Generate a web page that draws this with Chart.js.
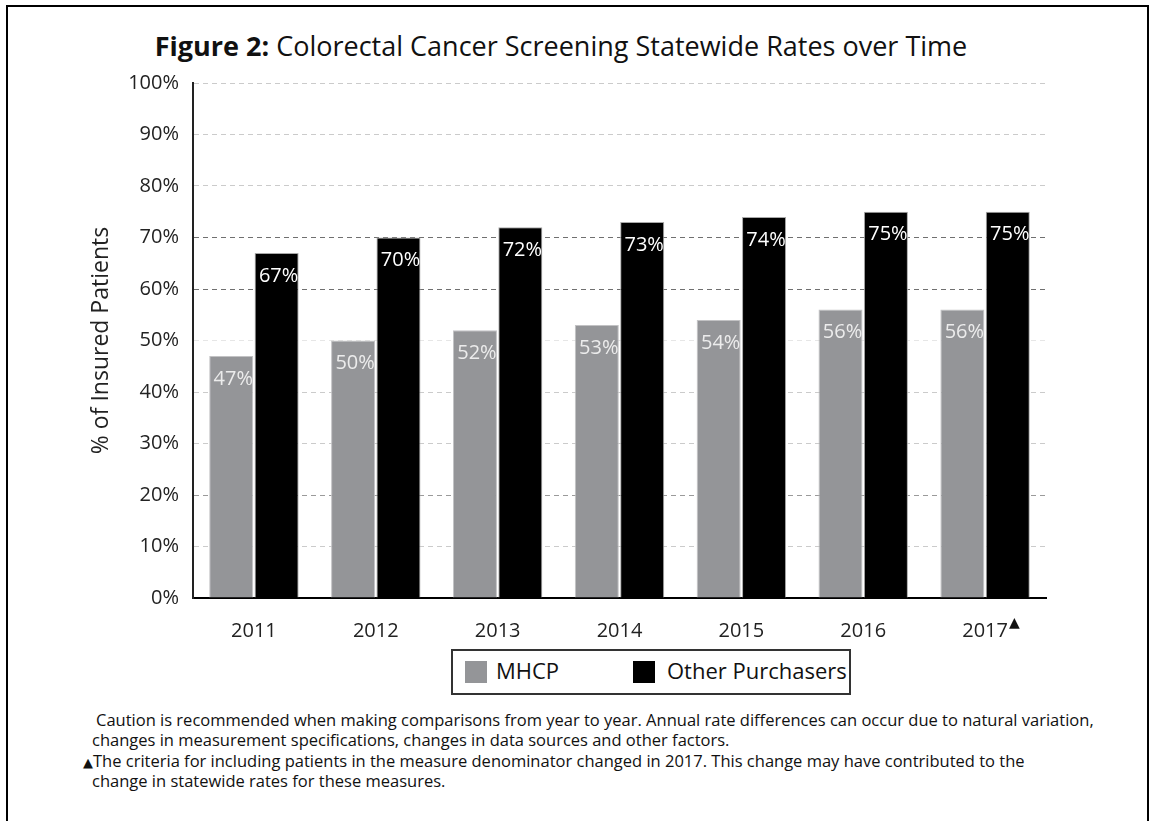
<!DOCTYPE html>
<html>
<head>
<meta charset="utf-8">
<title>Figure 2</title>
<script src="https://cdn.jsdelivr.net/npm/chart.js@4.4.1/dist/chart.umd.min.js"></script>
<style>
  html, body { margin: 0; padding: 0; background: #fff; }
  body { width: 1153px; height: 821px; position: relative; overflow: hidden; font-family: "Open Sans", sans-serif; color: #111; }
  #frame { position: absolute; left: 6px; top: 5px; width: 1139px; height: 840px; border: 2px solid #000; }
  #wrap { position: absolute; left: 0; top: 0; width: 1153px; height: 640px; }
  #title { position: absolute; left: 0; width: 1122px; top: 30px; text-align: center; font-size: 27px; line-height: 32px; color: #111; white-space: nowrap; }
  #title b { font-weight: 700; }
  #legend { position: absolute; left: 451px; top: 649px; width: 396px; height: 42px; border: 2px solid #333; }
  #legend .sw { position: absolute; top: 10px; width: 22px; height: 22px; }
  #legend .tx { position: absolute; top: 4px; font-size: 22px; line-height: 30px; color: #111; white-space: nowrap; }
  .note { position: absolute; font-size: 16.5px; line-height: 20px; color: #111; white-space: nowrap; }
  .tri { font-family: "DejaVu Sans", sans-serif; font-size: 13px; }
</style>
</head>
<body>
<div id="frame"></div>
<div id="title"><b>Figure 2:</b> Colorectal Cancer Screening Statewide Rates over Time</div>
<div id="wrap"><canvas id="chart"></canvas></div>
<div id="legend">
  <div class="sw" style="left:12px;background:#949598"></div>
  <div class="tx" style="left:43px">MHCP</div>
  <div class="sw" style="left:180px;background:#000"></div>
  <div class="tx" style="left:214px">Other Purchasers</div>
</div>
<div class="note" style="left:96px;top:710px">Caution is recommended when making comparisons from year to year. Annual rate differences can occur due to natural variation,</div>
<div class="note" style="left:92px;top:730px">changes in measurement specifications, changes in data sources and other factors.</div>
<div class="note" style="left:83px;top:751px"><span class="tri">&#9650;</span>The criteria for including patients in the measure denominator changed in 2017. This change may have contributed to the</div>
<div class="note" style="left:92px;top:771px">change in statewide rates for these measures.</div>
<script>
const years = ["2011", "2012", "2013", "2014", "2015", "2016", "2017"];
const mhcp = [47, 50, 52, 53, 54, 56, 56];
const otherPurchasers = [67, 70, 72, 73, 74, 75, 75];
const yMax = 100;
const yStep = 10;

// lighter or darker dashes, as in the picture
function gridColor(v) {
  if (v === 0) return "rgba(0,0,0,0)";
  if (v === 70 || v === 60) return "#707070";
  if (v === 20) return "#9a9a9a";
  if (v === 50) return "#e6e6e6";
  return "#cbcbcb";
}

// value labels just inside the top of each bar
const barLabels = {
  id: "barLabels",
  afterDatasetsDraw(chart) {
    const ctx = chart.ctx;
    ctx.save();
    ctx.font = "20px 'Open Sans'";
    ctx.textAlign = "center";
    ctx.textBaseline = "middle";
    chart.data.datasets.forEach((ds, di) => {
      chart.getDatasetMeta(di).data.forEach((bar, i) => {
        ctx.fillStyle = di === 0 ? "#ececec" : "#ffffff";
        ctx.fillText(ds.data[i] + "%", bar.x + 2, bar.y + 23);
      });
    });
    ctx.restore();
  }
};

// small triangle after the last year
const yearMark = {
  id: "yearMark",
  afterDraw(chart) {
    const ctx = chart.ctx;
    const x = chart.scales.x;
    const last = years.length - 1;
    const px = x.getPixelForTick(last);
    ctx.save();
    ctx.font = "20px 'Open Sans'";
    const w = ctx.measureText(years[last]).width;
    ctx.font = "14px 'DejaVu Sans'";
    ctx.fillStyle = "#111";
    ctx.textAlign = "left";
    ctx.textBaseline = "top";
    ctx.fillText("\u25B2", px + w / 2 + 1, x.top + 18);
    ctx.restore();
  }
};

new Chart(document.getElementById("chart"), {
  type: "bar",
  data: {
    labels: years,
    datasets: [
      {
        label: "MHCP",
        data: mhcp,
        backgroundColor: "#949598",
        borderColor: "#c2c2c4",
        borderWidth: 1,
        barPercentage: 0.97,
        categoryPercentage: 0.745
      },
      {
        label: "Other Purchasers",
        data: otherPurchasers,
        backgroundColor: "#000000",
        borderColor: "#a8a8a8",
        borderWidth: 1,
        barPercentage: 0.97,
        categoryPercentage: 0.745
      }
    ]
  },
  options: {
    responsive: true,
    maintainAspectRatio: false,
    animation: false,
    layout: { padding: { top: 83, right: 107, left: 0, bottom: 0 } },
    plugins: {
      legend: { display: false },
      title: { display: false },
      tooltip: { enabled: false }
    },
    scales: {
      x: {
        afterFit(scale) { scale.height = 42; },
        grid: { display: false, drawTicks: false },
        border: { display: true, color: "#000", width: 2 },
        ticks: { padding: 21, color: "#222", font: { family: "Open Sans", size: 20 } }
      },
      y: {
        min: 0,
        max: yMax,
        afterFit(scale) { scale.width = 193; },
        grid: {
          drawTicks: false,
          lineWidth: 1,
          color: (c) => gridColor(c.tick.value)
        },
        border: { display: true, color: "#222", width: 2, dash: [5, 4] },
        ticks: {
          stepSize: yStep,
          padding: 14,
          color: "#222",
          font: { family: "Open Sans", size: 20 },
          callback: (v) => v + "%"
        },
        title: {
          display: true,
          text: "% of Insured Patients",
          color: "#222",
          font: { family: "Open Sans", size: 23 },
          padding: { top: 88, bottom: 0 }
        }
      }
    }
  },
  plugins: [barLabels, yearMark]
});
</script>
</body>
</html>
